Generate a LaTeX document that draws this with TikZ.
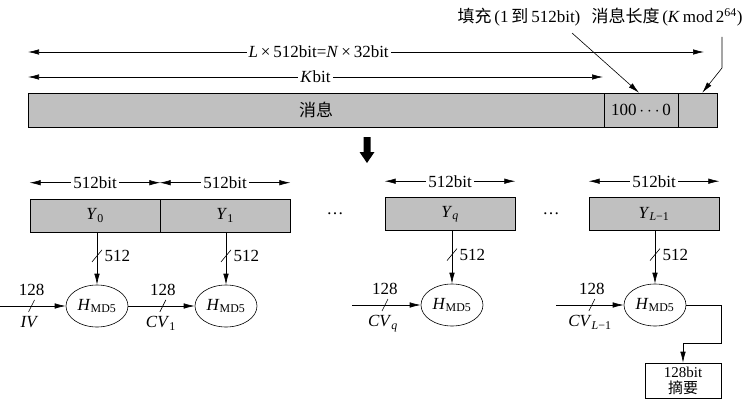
\documentclass[tikz,border=0pt]{standalone}
\usepackage{fontspec}
\setmainfont{Liberation Serif}
\newfontfamily\cjk{Noto Sans CJK SC}
\usetikzlibrary{arrows.meta,calc,positioning,shapes.geometric}
\definecolor{blockgray}{RGB}{192,192,192}
\newcommand{\hmd}{\textit{H}\textsubscript{MD5}}

\begin{document}
\begin{tikzpicture}[x=1pt,y=-1pt,semithick,font=\fontsize{17}{19}\selectfont,
  tip/.style={-{Latex[length=11pt,width=5.5pt]}},
  dim/.style={{Latex[length=11pt,width=5.5pt]}-{Latex[length=11pt,width=5.5pt]}},
  blk/.style={draw,fill=blockgray,minimum width=130pt,minimum height=33pt,inner sep=0pt},
  hbox/.style={draw,ellipse,minimum width=62pt,minimum height=42pt,inner sep=0pt},
  lbl/.style={fill=white,inner sep=2pt}]
\useasboundingbox (0,0) rectangle (744,404);

% padded message
\node[blk,minimum width=576pt,minimum height=34pt] (msg) at (316,110) {\cjk 消息};
\node[blk,minimum width=74pt,minimum height=34pt] (pad) at (641,110) {100\,$\cdots$\,0};
\node[blk,minimum width=39pt,minimum height=34pt] (len) at (697.5,110) {};
\coordinate (la) at (28,52);
\coordinate (lb) at (704,52);
\coordinate (ka) at (28,77);
\coordinate (kb) at (603,77);
\draw[dim] (la) -- node[lbl,pos=0.43] {\textit{L}\,×\,512bit=\textit{N}\,×\,32bit} (lb);
\draw[dim] (ka) -- node[lbl] {\textit{K}bit} (kb);
\node (padlbl) at (519,17) {{\cjk 填充}\,(1\,{\cjk 到}\,512bit)};
\node (lenlbl) at (667,17) {{\cjk 消息长度}\,(\textit{K}\,mod\,2\textsuperscript{64})};
\coordinate (pa) at (572,33);
\coordinate (lc) at (722,37);
\draw[tip] (pa) -- ($(pad.north)+(-2,0)$);
\draw[tip] (lc) -- (722,68) -- ($(len.north east)+(-15,0)$);

% big down arrow
\fill (363.5,137) -- (370.5,137) -- (370.5,152) -- (374.5,152) -- (367,163)
  -- (359.5,152) -- (363.5,152) -- cycle;

% 512-bit blocks
\node[blk] (y0) at (95,215.5) {\textit{Y}\textsubscript{0}};
\node[blk] (y1) at (225,215.5) {\textit{Y}\textsubscript{1}};
\node[blk] (yq) at (450,214) {\textit{Y}\textsubscript{\textit{q}}};
\node[blk] (yl) at (654,214) {\textit{Y}\textsubscript{\textit{L}−1}};
\node (dots1) at (335,214) {…};
\node (dots2) at (551,214) {…};
\foreach \b in {y0,y1,yq,yl}
  \draw[dim] ($(\b.north west)+(0,-16)$) -- node[lbl] {512bit} ($(\b.north east)+(0,-16)$);

% compression functions
\node[hbox] (h0) at (97,306) {\hmd};
\node[hbox] (h1) at (226,306) {\hmd};
\node[hbox] (hq) at (452,305) {\hmd};
\node[hbox] (hl) at (655,305) {\hmd};
\foreach \b/\h in {y0/h0,y1/h1,yq/hq,yl/hl}{
  \draw[tip] (\b.south -| \h) -- coordinate[pos=0.45] (s\h) (\h.north);
  \draw ($(s\h)+(-5,6)$) -- ($(s\h)+(5,-6)$);
  \node[right=4pt of s\h] {512};
}
\coordinate (iv) at (0,306);
\coordinate (cvq) at (352,305);
\coordinate (cvl) at (556,305);
\draw[tip] (iv) -- coordinate[pos=0.48] (m0) (h0.west);
\draw[tip] (h0.east) -- coordinate[pos=0.52] (m1) (h1.west);
\draw[tip] (cvq) -- coordinate[pos=0.48] (mq) (hq.west);
\draw[tip] (cvl) -- coordinate[pos=0.53] (ml) (hl.west);
\foreach \m/\cv in {m0/\textit{IV},m1/\textit{CV}\textsubscript{1},
    mq/\textit{CV}\textsubscript{\textit{q}},ml/\textit{CV}\textsubscript{\textit{L}−1}}{
  \draw ($(\m)+(-3,6)$) -- ($(\m)+(3,-6)$);
  \node[above=7pt of \m] {128};
  \node[below=7pt of \m,xshift=-2pt] {\cv};
}

% digest
\node[draw,minimum width=76pt,minimum height=35pt,inner sep=0pt,align=center,
  font=\fontsize{15}{16}\selectfont] (dig) at (683,380.5) {128bit\\{\cjk 摘要}};
\draw[tip] (hl.east) -- (721,305) -- (721,343) -- (dig.north |- 0,343) -- (dig.north);
\end{tikzpicture}
\end{document}
